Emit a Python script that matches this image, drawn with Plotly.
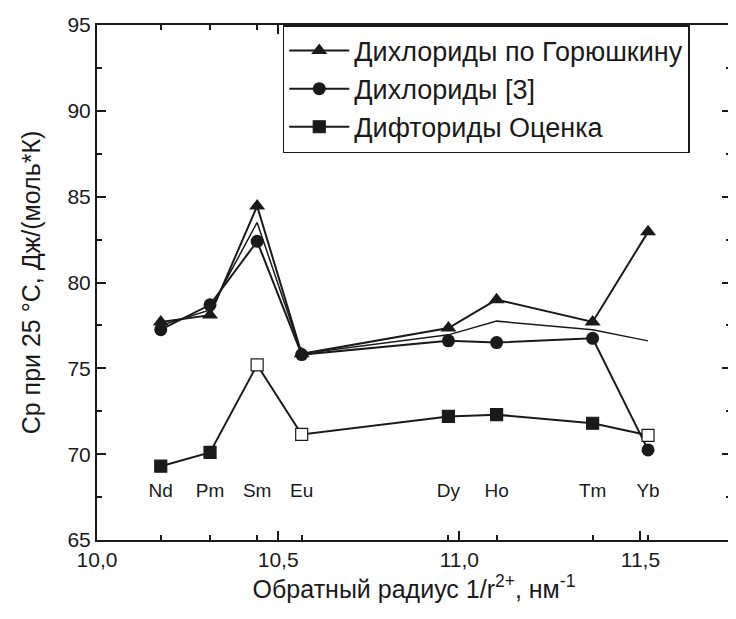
import plotly.graph_objects as go

elements = ["Nd", "Pm", "Sm", "Eu", "Dy", "Ho", "Tm", "Yb"]
inv_radius = [10.176, 10.312, 10.442, 10.565, 10.970, 11.103, 11.368, 11.521]

cl_goryushkin = [77.7, 78.1, 84.45, 75.85, 77.35, 79.0, 77.7, 82.95]
cl_ref3 = [77.25, 78.7, 82.4, 75.8, 76.6, 76.5, 76.75, 70.25]
cl_extra = [77.5, 78.4, 83.5, 75.85, 76.95, 77.75, 77.25, 76.6]
f_estimate = [69.3, 70.1, 75.2, 71.15, 72.2, 72.3, 71.8, 71.1]
f_open = [False, False, True, True, False, False, False, True]

label_level = [67.8] * len(elements)

x_ticks = [10.0, 10.5, 11.0, 11.5]
x_ticktext = ["10,0", "10,5", "11,0", "11,5"]

INK = "#1a1a1a"
FONT = "Liberation Sans, Arial, sans-serif"

fig = go.Figure()

fig.add_trace(go.Scatter(
    x=inv_radius, y=cl_extra, mode="lines", showlegend=False,
    line=dict(color=INK, width=1.5), hoverinfo="skip"))

fig.add_trace(go.Scatter(
    x=inv_radius, y=cl_goryushkin, mode="lines+markers",
    name="Дихлориды по Горюшкину",
    line=dict(color=INK, width=2),
    marker=dict(symbol="triangle-up", size=14, color=INK)))

fig.add_trace(go.Scatter(
    x=inv_radius, y=cl_ref3, mode="lines+markers",
    name="Дихлориды [3]",
    line=dict(color=INK, width=2),
    marker=dict(symbol="circle", size=13, color=INK)))

fig.add_trace(go.Scatter(
    x=inv_radius, y=f_estimate, mode="lines+markers",
    name="Дифториды Оценка",
    line=dict(color=INK, width=2),
    marker=dict(symbol="square", size=12,
                color=["white" if o else INK for o in f_open],
                line=dict(color=INK, width=1.2))))

fig.add_trace(go.Scatter(
    x=inv_radius, y=label_level, mode="text", text=elements,
    textfont=dict(family=FONT, size=19, color=INK), showlegend=False,
    hoverinfo="skip"))

fig.update_layout(
    width=728, height=600,
    margin=dict(l=89, r=3, t=17, b=68),
    paper_bgcolor="white", plot_bgcolor="white",
    font=dict(family=FONT, color=INK, size=21),
    legend=dict(
        x=0.293, y=1, xanchor="left", yanchor="top",
        bgcolor="white", bordercolor=INK, borderwidth=1.5,
        font=dict(family=FONT, size=27, color=INK),
        itemwidth=60, tracegroupgap=0, traceorder="normal"),
    xaxis=dict(
        range=[10.0, 11.75], tickmode="array", tickvals=x_ticks,
        ticktext=x_ticktext, ticks="inside", ticklen=9, tickwidth=1.5,
        tickcolor=INK, showline=True, linecolor=INK, linewidth=2,
        mirror="ticks", showgrid=False, zeroline=False,
        tickfont=dict(family=FONT, size=21, color=INK),
        minor=dict(tickmode="array", tickvals=inv_radius, ticks="inside",
                   ticklen=5, tickwidth=1.5, tickcolor=INK, showgrid=False),
        title=dict(text="Обратный радиус 1/r<sup>2+</sup>, нм<sup>-1</sup>",
                   font=dict(family=FONT, size=25, color=INK), standoff=8)),
    yaxis=dict(
        range=[65, 95], tick0=65, dtick=5, ticks="inside", ticklen=9,
        tickwidth=1.5, tickcolor=INK, showline=True, linecolor=INK,
        linewidth=2, mirror="ticks", showgrid=False, zeroline=False,
        tickfont=dict(family=FONT, size=21, color=INK),
        minor=dict(dtick=2.5, ticks="inside", ticklen=5, tickwidth=1.5,
                   tickcolor=INK, showgrid=False),
        title=dict(text="Cp при 25 °C, Дж/(моль*К)",
                   font=dict(family=FONT, size=25, color=INK), standoff=20)),
)

fig.write_html("out.html")
